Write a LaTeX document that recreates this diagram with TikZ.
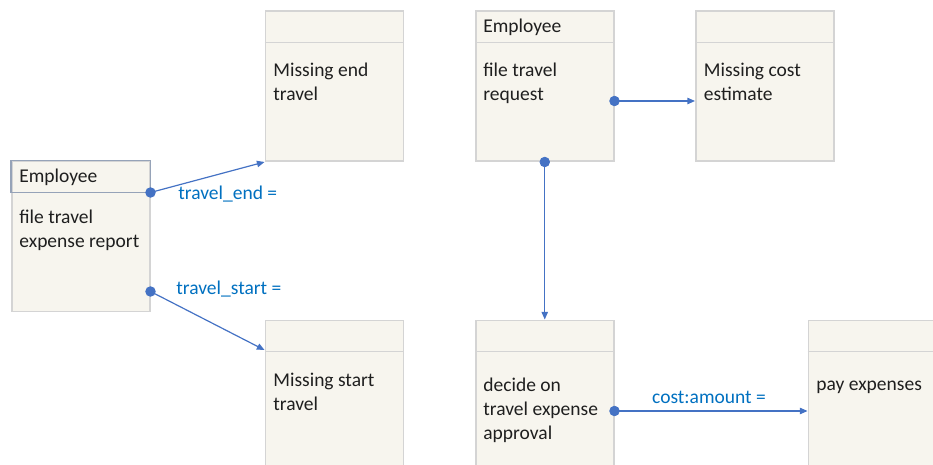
\documentclass[tikz,border=0pt]{standalone}
\usepackage{fontspec}
\setmainfont{Carlito}
\usetikzlibrary{calc,arrows.meta}

\definecolor{boxfill}{RGB}{247,245,238}
\definecolor{boxline}{RGB}{212,212,212}
\definecolor{headline}{RGB}{150,163,184}
\definecolor{flowblue}{RGB}{68,114,196}
\definecolor{labelblue}{RGB}{0,112,192}

\def \dotSize {2.4pt}
\def \headH {32}

\tikzset{
  task/.style={draw=boxline, line width=0.75pt, fill=boxfill, anchor=north west,
    inner sep=0pt, minimum width=69pt, minimum height=75pt},
  tasktext/.style={anchor=base west, align=left, inner sep=0pt,
    font=\fontsize{9.75}{12}\selectfont, text=black!88},
  flow/.style={draw=flowblue, line width=0.6pt, -{Triangle[length=3.8pt,width=3.2pt]}},
  flowlabel/.style={text=labelblue, inner sep=0pt, font=\fontsize{9.75}{12}\selectfont},
}

\begin{document}
\begin{tikzpicture}[x=0.5pt,y=-0.5pt]
  \useasboundingbox (0,0) rectangle (933,465);
  \clip (0,0) rectangle (933,465);

  % task boxes
  \node[task] (report) at (11,160.5) {};
  \node[task] (endtravel) at (264.5,10.5) {};
  \node[task] (request) at (475,10.5) {};
  \node[task] (costest) at (695,10.5) {};
  \node[task] (starttravel) at (264.5,319.5) {};
  \node[task] (decide) at (475,319.5) {};
  \node[task] (pay) at (807.5,319.5) {};

  % header separators
  \foreach \t in {endtravel,request,costest,starttravel,decide,pay}
    \draw[boxline, line width=0.75pt] ($(\t.north west)+(0,\headH)$) -- ($(\t.north east)+(0,\headH)$);
  \draw[headline, line width=0.75pt] (report.north west) rectangle ($(report.north east)+(0,\headH)$);

  % texts (base = last line)
  \node[tasktext] (reportrole) at ($(report.north west)+(8,22.2)$) {Employee};
  \node[tasktext] (reportname) at ($(report.north west)+(8,87.5)$) {file travel\\expense report};
  \node[tasktext] (endname) at ($(endtravel.north west)+(8.5,90.5)$) {Missing end\\travel};
  \node[tasktext] (requestrole) at ($(request.north west)+(8,22.5)$) {Employee};
  \node[tasktext] (requestname) at ($(request.north west)+(8,90.5)$) {file travel\\request};
  \node[tasktext] (costname) at ($(costest.north west)+(8.5,90.5)$) {Missing cost\\estimate};
  \node[tasktext] (startname) at ($(starttravel.north west)+(8.5,90.5)$) {Missing start\\travel};
  \node[tasktext] (decidename) at ($(decide.north west)+(8,120)$) {decide on\\travel expense\\approval};
  \node[tasktext] (payname) at ($(pay.north west)+(8.5,70.5)$) {pay expenses};

  % flows
  \filldraw[flowblue] ($(report.north east)+(0,\headH)$) coordinate (endport) circle (\dotSize);
  \draw[flow] (endport) -- (endtravel.south west);
  \filldraw[flowblue] ($(report.north east)+(0,131)$) coordinate (startport) circle (\dotSize);
  \draw[flow] (startport) -- ($(starttravel.north west)+(0,30.5)$);
  \filldraw[flowblue] ($(request.north east)+(0,90.5)$) coordinate (costport) circle (\dotSize);
  \draw[flow] (costport) -- (costport -| costest.west);
  \filldraw[flowblue] (request.south) coordinate (decideport) circle (\dotSize);
  \draw[flow] (decideport) -- (decide.north);
  \filldraw[flowblue] ($(decide.north east)+(0,91.5)$) coordinate (payport) circle (\dotSize);
  \draw[flow] (payport) -- (payport -| pay.west);

  % conditions
  \node[flowlabel, anchor=west] (endcond) at (178,194) {travel\_end =};
  \node[flowlabel, anchor=west] (startcond) at (176,289) {travel\_start =};
  \node[flowlabel] (costcond) at (709,397) {cost:amount =};
\end{tikzpicture}
\end{document}
